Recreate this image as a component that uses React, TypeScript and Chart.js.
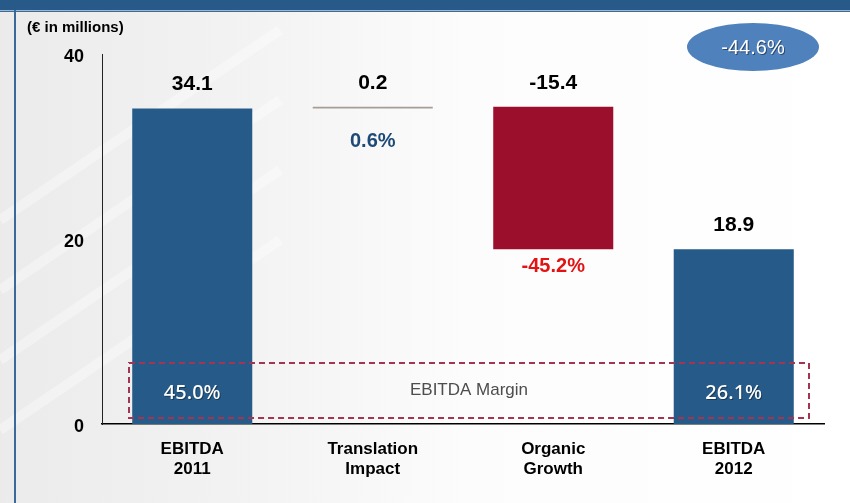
import React, { useEffect, useRef } from 'react';
import { Chart, registerables } from 'chart.js';

Chart.register(...registerables);

// ---- data ----
const categories: string[][] = [['EBITDA', '2011'], ['Translation', 'Impact'], ['Organic', 'Growth'], ['EBITDA', '2012']];
const values = [34.1, 0.2, -15.4, 18.9];
const kinds = ['total', 'delta', 'delta', 'total'];
const valueLabels = ['34.1', '0.2', '-15.4', '18.9'];
const marginLabels = ['45.0%', '0.6%', '-45.2%', '26.1%'];
const totalChangeLabel = '-44.6%';
const yTicks = [0, 20, 40];
const unitLabel = '(€ in millions)';
const marginTitle = 'EBITDA Margin';

// ---- styles ----
const barColors = ['#265a88', '#a69d97', '#9b0f2d', '#265a88'];
const marginColors = ['#ffffff', '#1f4a78', '#e31313', '#ffffff'];
const FONT = "'Liberation Sans', Arial, sans-serif";
const MARGIN_FONT = "'Noto Sans', 'Open Sans', sans-serif";

function buildRanges(): number[][] {
  let cum = 0;
  return values.map((v, i) => {
    if (kinds[i] === 'total') {
      cum = v;
      return [0, v];
    }
    const a = cum;
    const b = cum + v;
    cum = b;
    return [Math.min(a, b), Math.max(a, b)];
  });
}

const decorPlugin = {
  id: 'decor',
  beforeDraw(chart: any) {
    const { ctx, width, height } = chart;
    ctx.save();
    // background
    const g = ctx.createLinearGradient(0, 0, width, 0);
    g.addColorStop(0, '#ebebeb');
    g.addColorStop(0.3, '#f3f3f3');
    g.addColorStop(0.55, '#fcfcfc');
    g.addColorStop(1, '#ffffff');
    ctx.fillStyle = g;
    ctx.fillRect(0, 0, width, height);
    // faint streaks
    ctx.strokeStyle = 'rgba(255,255,255,0.35)';
    ctx.lineWidth = 10;
    for (let i = 0; i < 4; i++) {
      ctx.beginPath();
      ctx.moveTo(0, 220 + i * 70);
      ctx.lineTo(280, 30 + i * 70);
      ctx.stroke();
    }
    // header band
    ctx.fillStyle = '#275a88';
    ctx.fillRect(0, 0, width, 10);
    ctx.fillStyle = '#9fb6cf';
    ctx.fillRect(0, 10, width, 1);
    ctx.fillStyle = '#3d6c9b';
    ctx.fillRect(0, 11, width, 1);
    // left border
    ctx.fillStyle = '#3a6a99';
    ctx.fillRect(14, 10, 2, height - 10);
    ctx.restore();
  },
  afterDatasetsDraw(chart: any) {
    const { ctx, chartArea, scales } = chart;
    const y = scales.y;
    const meta = chart.getDatasetMeta(0);
    ctx.save();

    // unit label
    ctx.fillStyle = '#000';
    ctx.font = `bold 15px ${FONT}`;
    ctx.textAlign = 'left';
    ctx.textBaseline = 'middle';
    ctx.fillText(unitLabel, 27, 28);

    // y tick labels
    ctx.font = `bold 18px ${FONT}`;
    ctx.textAlign = 'right';
    yTicks.forEach((v) => {
      ctx.fillText(String(v), chartArea.left - 18, y.getPixelForValue(v) + 3);
    });

    // value labels above bars
    ctx.font = `bold 21px ${FONT}`;
    ctx.textAlign = 'center';
    meta.data.forEach((bar: any, i: number) => {
      const top = Math.min(bar.y, bar.base);
      ctx.fillStyle = '#000';
      ctx.fillText(valueLabels[i], bar.x, top - 24);
    });

    // margin box
    const boxL = chartArea.left + 27;
    const boxR = chartArea.right - 15;
    const boxT = y.getPixelForValue(6.6);
    const boxB = y.getPixelForValue(0.65);
    ctx.setLineDash([6, 4]);
    ctx.lineWidth = 2;
    ctx.strokeStyle = '#a33552';
    ctx.strokeRect(boxL, boxT, boxR - boxL, boxB - boxT);
    ctx.setLineDash([]);

    ctx.font = `17px ${FONT}`;
    ctx.fillStyle = '#4d4d4d';
    ctx.fillText(marginTitle, (boxL + boxR) / 2, (boxT + boxB) / 2);

    // margin labels
    const deltaOffsets = [0, 33, 17, 0];
    meta.data.forEach((bar: any, i: number) => {
      if (kinds[i] === 'total') {
        ctx.font = `500 20px ${MARGIN_FONT}`;
        ctx.fillStyle = marginColors[i];
        ctx.shadowColor = 'rgba(0,0,0,0.35)';
        ctx.shadowOffsetX = 1;
        ctx.shadowOffsetY = 1;
        ctx.fillText(marginLabels[i], bar.x, (boxT + boxB) / 2 + 3);
        ctx.shadowColor = 'transparent';
      } else {
        const bottom = Math.max(bar.y, bar.base);
        ctx.font = `bold 20px ${FONT}`;
        ctx.fillStyle = marginColors[i];
        ctx.fillText(marginLabels[i], bar.x, bottom + deltaOffsets[i]);
      }
    });

    // ellipse with total change
    const ex = chartArea.right - 71;
    const ey = 47;
    ctx.beginPath();
    ctx.ellipse(ex, ey, 66, 24, 0, 0, Math.PI * 2);
    ctx.fillStyle = '#4f81bd';
    ctx.fill();
    ctx.font = `20px ${FONT}`;
    ctx.fillStyle = '#ffffff';
    ctx.shadowColor = 'rgba(0,0,0,0.45)';
    ctx.shadowOffsetX = 1;
    ctx.shadowOffsetY = 1;
    ctx.fillText(totalChangeLabel, ex, ey + 1);
    ctx.restore();
  },
};

export default function App() {
  const ref = useRef<HTMLCanvasElement | null>(null);
  useEffect(() => {
    document.body.style.margin = '0';
    const canvas = ref.current;
    if (!canvas) return;
    const chart = new Chart(canvas, {
      type: 'bar',
      data: {
        labels: categories,
        datasets: [
          {
            data: buildRanges() as any,
            backgroundColor: barColors,
            borderWidth: 0,
            borderSkipped: false,
            barPercentage: 0.665,
            categoryPercentage: 1,
          },
        ],
      },
      options: {
        animation: false,
        responsive: false,
        devicePixelRatio: 1,
        layout: { padding: { left: 0, right: 26, top: 54, bottom: 0 } },
        plugins: { legend: { display: false }, tooltip: { enabled: false } },
        scales: {
          x: {
            grid: { display: false, drawTicks: false },
            border: { display: true, color: '#000', width: 1.5 },
            ticks: { color: '#000', font: { family: FONT, size: 17, weight: 'bold' }, padding: 15, maxRotation: 0 },
            afterFit: (s: any) => {
              s.height = 79;
            },
          },
          y: {
            min: 0,
            max: 40,
            grid: { display: false, drawTicks: false },
            border: { display: true, color: '#222', width: 1 },
            ticks: { display: false },
            afterBuildTicks: (s: any) => {
              s.ticks = yTicks.map((v) => ({ value: v }));
            },
            afterFit: (s: any) => {
              s.width = 102;
            },
          },
        },
      },
      plugins: [decorPlugin],
    });
    return () => chart.destroy();
  }, []);
  return (
    <canvas ref={ref} width={850} height={503} style={{ position: 'absolute', left: 0, top: 0, width: 850, height: 503 }} />
  );
}
